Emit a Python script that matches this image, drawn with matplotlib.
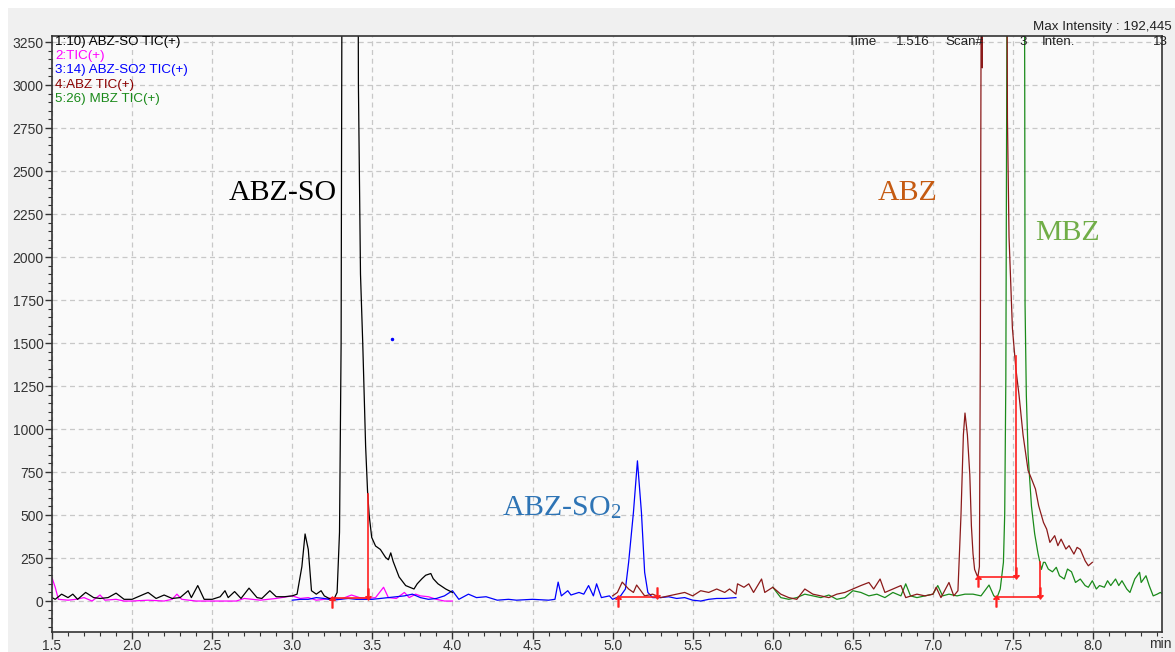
import matplotlib
matplotlib.use("Agg")
import matplotlib.pyplot as plt
from matplotlib.patches import Rectangle
from matplotlib.ticker import MultipleLocator, FormatStrFormatter

plt.rcParams['font.family'] = ['Liberation Sans', 'DejaVu Sans']
plt.rcParams['mathtext.fontset'] = 'stix'

# ---- data (time in min, intensity) ----
abz_so_t = [1.50, 1.52, 1.56, 1.60, 1.63, 1.66, 1.71, 1.76, 1.80, 1.85, 1.90, 1.95, 2.00, 2.05,
            2.10, 2.15, 2.20, 2.25, 2.30, 2.35, 2.37, 2.41, 2.45, 2.50, 2.55, 2.58, 2.60, 2.64,
            2.68, 2.73, 2.78, 2.81, 2.86, 2.90, 2.95, 3.00, 3.03, 3.06, 3.08, 3.10, 3.12, 3.15,
            3.18, 3.20, 3.23, 3.26, 3.28, 3.295, 3.305, 3.31, 3.33, 3.37, 3.405, 3.413, 3.426,
            3.44, 3.458, 3.47, 3.48, 3.496, 3.52, 3.55, 3.583, 3.60, 3.615, 3.63, 3.667, 3.708,
            3.76, 3.78, 3.81, 3.833, 3.865, 3.88, 3.91, 3.958, 4.00]
abz_so_i = [20, 10, 40, 20, 40, 10, 50, 20, 15, 20, 46, 10, 10, 30,
            50, 15, 35, 15, 20, 60, 20, 90, 10, 10, 25, 60, 20, 55,
            15, 75, 20, 15, 60, 25, 25, 30, 40, 200, 390, 300, 60, 40,
            60, 30, 15, 10, 50, 400, 1500, 3500, 9000, 12000, 6000, 3000, 1900,
            1500, 900, 640, 500, 370, 320, 300, 253, 240, 280, 230, 140, 90,
            70, 100, 130, 150, 160, 130, 100, 70, 50]

tic_t = [1.50, 1.52, 1.54, 1.60, 1.65, 1.70, 1.75, 1.80, 1.83, 1.90, 1.95, 2.00, 2.10, 2.20,
         2.25, 2.28, 2.31, 2.40, 2.50, 2.60, 2.65, 2.70, 2.80, 2.90, 3.00, 3.05, 3.10, 3.15,
         3.20, 3.25, 3.30, 3.37, 3.42, 3.47, 3.52, 3.57, 3.60, 3.65, 3.70, 3.73, 3.77, 3.80,
         3.85, 3.90, 3.95, 4.00]
tic_i = [135, 80, 10, 5, 10, 20, 0, 35, 5, 10, 0, 0, 5, 0,
         10, 40, 10, 0, 0, 0, 0, 15, 5, 15, 30, 15, 20, 5,
         10, 20, 10, 35, 20, 15, 20, 80, 20, 15, 50, 20, 40, 30,
         25, 10, 0, 0]

abz_so2_t = [3.00, 3.05, 3.10, 3.15, 3.20, 3.25, 3.30, 3.35, 3.40, 3.45, 3.50, 3.55, 3.60, 3.65,
             3.70, 3.75, 3.80, 3.85, 3.90, 3.95, 4.00, 4.04, 4.10, 4.15, 4.21, 4.28, 4.35, 4.40,
             4.50, 4.60, 4.64, 4.66, 4.68, 4.72, 4.74, 4.79, 4.82, 4.85, 4.88, 4.90, 4.93, 4.98,
             5.00, 5.05, 5.08, 5.10, 5.13, 5.155, 5.18, 5.20, 5.22, 5.25, 5.30, 5.35, 5.40, 5.45,
             5.50, 5.55, 5.60, 5.65, 5.70, 5.77]
abz_so2_i = [5, 10, 10, 20, 15, 5, 10, 15, 10, 10, 10, 15, 20, 25,
             30, 40, 20, 10, 15, 30, 60, 10, 40, 20, 25, 5, 10, 5,
             10, 5, 10, 110, 30, 60, 35, 50, 40, 90, 30, 100, 20, 30,
             10, 30, 70, 225, 515, 815, 515, 167, 50, 20, 20, 25, 15, 20,
             5, 0, 10, 15, 15, 20]
stray_t = [3.625]
stray_i = [1523]

abz_t = [5.00, 5.03, 5.06, 5.10, 5.13, 5.15, 5.20, 5.25, 5.30, 5.35, 5.40, 5.45, 5.50, 5.55,
         5.60, 5.65, 5.70, 5.73, 5.77, 5.78, 5.82, 5.85, 5.88, 5.93, 5.95, 6.00, 6.05, 6.10,
         6.15, 6.20, 6.25, 6.30, 6.35, 6.40, 6.45, 6.50, 6.55, 6.60, 6.63, 6.67, 6.70, 6.75,
         6.80, 6.83, 6.90, 6.95, 7.00, 7.02, 7.05, 7.10, 7.13, 7.156, 7.175, 7.19, 7.20, 7.215,
         7.23, 7.24, 7.25, 7.26, 7.28, 7.29, 7.296, 7.302, 7.308, 7.312, 7.32, 7.40, 7.458,
         7.465, 7.475, 7.496, 7.517, 7.5375, 7.5625, 7.594, 7.616, 7.64, 7.66, 7.69, 7.71,
         7.73, 7.76, 7.78, 7.80, 7.83, 7.85, 7.88, 7.90, 7.92, 7.95, 7.97, 7.995]
abz_i = [30, 50, 110, 70, 50, 93, 30, 40, 20, 30, 40, 50, 30, 60,
         50, 70, 50, 70, 40, 100, 80, 100, 50, 128, 50, 80, 40, 20,
         10, 70, 40, 30, 20, 40, 50, 70, 90, 108, 70, 128, 50, 70,
         90, 20, 40, 30, 40, 80, 20, 108, 30, 60, 500, 966, 1093, 966,
         736, 437, 276, 184, 138, 200, 1500, 4000, 3100, 4500, 9000, 12000, 5000,
         2800, 2116, 1587, 1357, 1196, 966, 759, 709, 651, 554, 457, 418,
         341, 380, 322, 360, 302, 322, 273, 312, 300, 234, 205, 225]

mbz_t = [6.00, 6.05, 6.10, 6.15, 6.20, 6.25, 6.30, 6.35, 6.40, 6.45, 6.50, 6.55, 6.60, 6.65,
         6.70, 6.75, 6.80, 6.83, 6.86, 6.90, 6.95, 7.00, 7.03, 7.06, 7.10, 7.15, 7.20, 7.25,
         7.30, 7.35, 7.38, 7.40, 7.42, 7.44, 7.448, 7.455, 7.46, 7.47, 7.52, 7.565, 7.573,
         7.575, 7.583, 7.594, 7.615, 7.635, 7.656, 7.677, 7.69, 7.70, 7.72, 7.746, 7.77, 7.79,
         7.82, 7.84, 7.865, 7.89, 7.92, 7.95, 7.97, 7.995, 8.02, 8.04, 8.07, 8.09, 8.11, 8.14,
         8.16, 8.18, 8.21, 8.23, 8.26, 8.29, 8.30, 8.33, 8.35, 8.375, 8.40, 8.42, 8.46]
mbz_i = [80, 20, 10, 20, 40, 30, 20, 35, 10, 20, 60, 50, 30, 40,
         20, 50, 30, 100, 30, 20, 30, 40, 90, 30, 40, 30, 40, 40,
         30, 93, 30, 20, 70, 225, 506, 1288, 2800, 6000, 12000, 6000, 3000,
         1725, 1196, 851, 552, 391, 276, 184, 225, 225, 186, 170, 196, 147,
         128, 186, 170, 108, 128, 90, 80, 118, 70, 90, 80, 118, 90, 128,
         90, 118, 70, 50, 128, 167, 108, 147, 90, 30, 40, 50, 20]

# peak integration marks
peak_start = [3.245, 5.035, 7.28, 7.395]
peak_end = [3.47, 5.28, 7.52, 7.67]
peak_base = [15, 21, 138, 23]
peak_top = [620, 21, 1426, 225]

yticks = list(range(0, 3251, 250))
xticks = [1.5, 2.0, 2.5, 3.0, 3.5, 4.0, 4.5, 5.0, 5.5, 6.0, 6.5, 7.0, 7.5, 8.0]

W, H = 1175, 652
fig = plt.figure(figsize=(W / 100, H / 100), dpi=100, facecolor='white')
fig.patches.append(Rectangle((8 / W, 0), 1 - 8 / W, 1 - 8 / H, transform=fig.transFigure,
                             facecolor='#f0f0f0', edgecolor='none', zorder=-10))

ax = fig.add_axes([52 / W, 1 - 632 / H, (1162 - 52) / W, (632 - 36) / H])
ax.set_facecolor('#fafafa')

lw = 0.9
ax.plot(tic_t, tic_i, color='#ff00ff', lw=lw)
ax.plot(abz_so2_t, abz_so2_i, color='#0000ff', lw=lw)
ax.plot(abz_so_t, abz_so_i, color='black', lw=lw)
ax.plot(mbz_t, mbz_i, color='#1a8a1a', lw=lw)
ax.plot(abz_t, abz_i, color='#8b1a1a', lw=lw)
ax.plot(stray_t, stray_i, 'o', color='#0000ff', ms=1.5)

red = '#ff2020'
for t0, t1, b, top in zip(peak_start, peak_end, peak_base, peak_top):
    ax.plot([t0, t1], [b, b], color=red, lw=1.2)
    if top > b:
        ax.plot([t1, t1], [b, top], color=red, lw=1.2)
    ax.plot(t0, b - 20, marker='$\\uparrow$', color=red, ms=8)
    ax.plot(t1, b + 25, marker='$\\downarrow$', color=red, ms=8)

ax.set_xlim(1.5, 8.43)
ax.set_ylim(-180, 3285)
ax.set_xticks(xticks)
ax.set_yticks(yticks)
ax.xaxis.set_major_formatter(FormatStrFormatter('%.1f'))
ax.xaxis.set_minor_locator(MultipleLocator(0.1))
ax.yaxis.set_minor_locator(MultipleLocator(50))
ax.tick_params(which='major', length=5, width=1, labelsize=10, colors='#333333',
               direction='out', pad=1)
ax.tick_params(which='minor', length=3, width=0.8, color='#333333', direction='out')
ax.tick_params(axis='x', which='major', pad=0.3)
ax.grid(True, which='major', color='#c8c8c8', linestyle=(0, (4, 3)), lw=0.9)
for s in ax.spines.values():
    s.set_color('#333333')
    s.set_linewidth(1.2)

# trace captions
serif = ['Liberation Serif', 'DejaVu Serif']
ax.text(2.606, 2372, 'ABZ-SO', color='black', fontsize=21.5, family=serif, va='center')
ax.text(4.3125, 541, 'ABZ-SO$_\\mathregular{2}$', color='#2e74b5', fontsize=21.5, family=serif,
        va='center')
ax.text(6.656, 2372, 'ABZ', color='#c55a11', fontsize=21.5, family=serif, va='center')
ax.text(7.6375, 2140, 'MBZ', color='#70ad47', fontsize=21.5, family=serif, va='center')

# channel list, top-left
legend_txt = ['1:10) ABZ-SO TIC(+)', '2:TIC(+)', '3:14) ABZ-SO2 TIC(+)', '4:ABZ TIC(+)', '5:26) MBZ TIC(+)']
legend_col = ['black', '#ff00ff', '#0000ff', '#8b0000', '#1a8a1a']
for k, (txt, c) in enumerate(zip(legend_txt, legend_col)):
    fig.text(55 / W, 1 - (42 + 14.2 * k) / H, txt, color=c, fontsize=9.6, va='center')

# cursor readout
hdr_y = 1 - 42 / H
fig.text(848 / W, hdr_y, 'Time', fontsize=9.6, va='center', color='#222222')
fig.text(896 / W, hdr_y, '1.516', fontsize=9.6, va='center', color='#222222')
fig.text(945 / W, hdr_y, 'Scan#', fontsize=9.6, va='center', color='#222222')
fig.text(1027 / W, hdr_y, '3', fontsize=9.6, va='center', ha='right', color='#222222')
fig.text(1042 / W, hdr_y, 'Inten.', fontsize=9.6, va='center', color='#222222')
fig.text(1168 / W, hdr_y, '13', fontsize=9.6, va='center', ha='right', color='#222222')
fig.text(1172 / W, 1 - 27 / H, 'Max Intensity : 192,445', fontsize=9.6, va='center', ha='right',
         color='#222222')
fig.text(1160 / W, 1 - 644 / H, 'min', fontsize=10, va='center', ha='center', color='#333333')

fig.savefig('out.png', dpi=100, facecolor=fig.get_facecolor())
